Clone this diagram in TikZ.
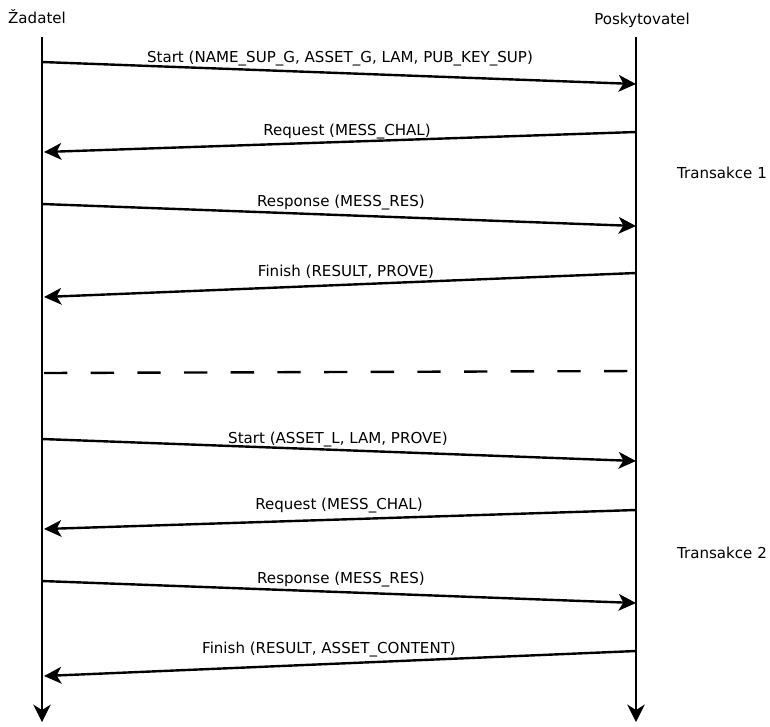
\documentclass[tikz,border=0pt]{standalone}
\usepackage{fontspec}
\setmainfont{DejaVu Sans}
\usetikzlibrary{arrows.meta}
\begin{document}
\begin{tikzpicture}[x=0.75pt,y=-0.75pt,
  lifeline/.style={line width=1.8pt,-{Stealth[length=13pt,width=13pt,inset=4pt]}},
  msg/.style={line width=1.8pt,-{Stealth[length=13pt,width=12.5pt,inset=3.5pt]}},
  msglabel/.style={font=\fontsize{11.3}{13}\selectfont,inner sep=0pt,anchor=base},
  actor/.style={font=\fontsize{11.3}{13}\selectfont,inner sep=0pt,anchor=base}]
\useasboundingbox (0,0) rectangle (770,726);

% actors and their lifelines
\node[actor] (zad) at (37,23) {Žadatel};
\node[actor] (pos) at (642,24) {Poskytovatel};
\coordinate (zt) at (42,37);  \coordinate (zb) at (42,722);
\coordinate (pt) at (636,37); \coordinate (pb) at (636,722);
\draw[lifeline] (zt) -- (zb);
\draw[lifeline] (pt) -- (pb);

% transaction 1
\coordinate (a1) at (42,62);  \coordinate (b1) at (636,84);
\coordinate (b2) at (636,132); \coordinate (a2) at (44,152);
\coordinate (a3) at (42,204); \coordinate (b3) at (636,226);
\coordinate (b4) at (636,273); \coordinate (a4) at (44,297);
\draw[msg] (a1) -- (b1);
\draw[msg] (b2) -- (a2);
\draw[msg] (a3) -- (b3);
\draw[msg] (b4) -- (a4);
\node[msglabel] (m1) at (340,62) {Start (NAME\_SUP\_G, ASSET\_G, LAM, PUB\_KEY\_SUP)};
\node[msglabel] (m2) at (347,135) {Request (MESS\_CHAL)};
\node[msglabel] (m3) at (341,206) {Response (MESS\_RES)};
\node[msglabel] (m4) at (346,276) {Finish (RESULT, PROVE)};
\node[msglabel] (t1) at (722,178) {Transakce 1};

% separator
\coordinate (s1) at (44,373); \coordinate (s2) at (636,371);
\draw[line width=1.8pt,dash pattern=on 17.5pt off 17.5pt] (s1) -- (s2);

% transaction 2
\coordinate (a5) at (42,439);  \coordinate (b5) at (636,461);
\coordinate (b6) at (636,510); \coordinate (a6) at (44,529);
\coordinate (a7) at (42,581);  \coordinate (b7) at (636,603);
\coordinate (b8) at (636,651); \coordinate (a8) at (44,676);
\draw[msg] (a5) -- (b5);
\draw[msg] (b6) -- (a6);
\draw[msg] (a7) -- (b7);
\draw[msg] (b8) -- (a8);
\node[msglabel] (m5) at (338,443) {Start (ASSET\_L, LAM, PROVE)};
\node[msglabel] (m6) at (339,509) {Request (MESS\_CHAL)};
\node[msglabel] (m7) at (341,583) {Response (MESS\_RES)};
\node[msglabel] (m8) at (329,653) {Finish (RESULT, ASSET\_CONTENT)};
\node[msglabel] (t2) at (722,558) {Transakce 2};
\end{tikzpicture}
\end{document}
